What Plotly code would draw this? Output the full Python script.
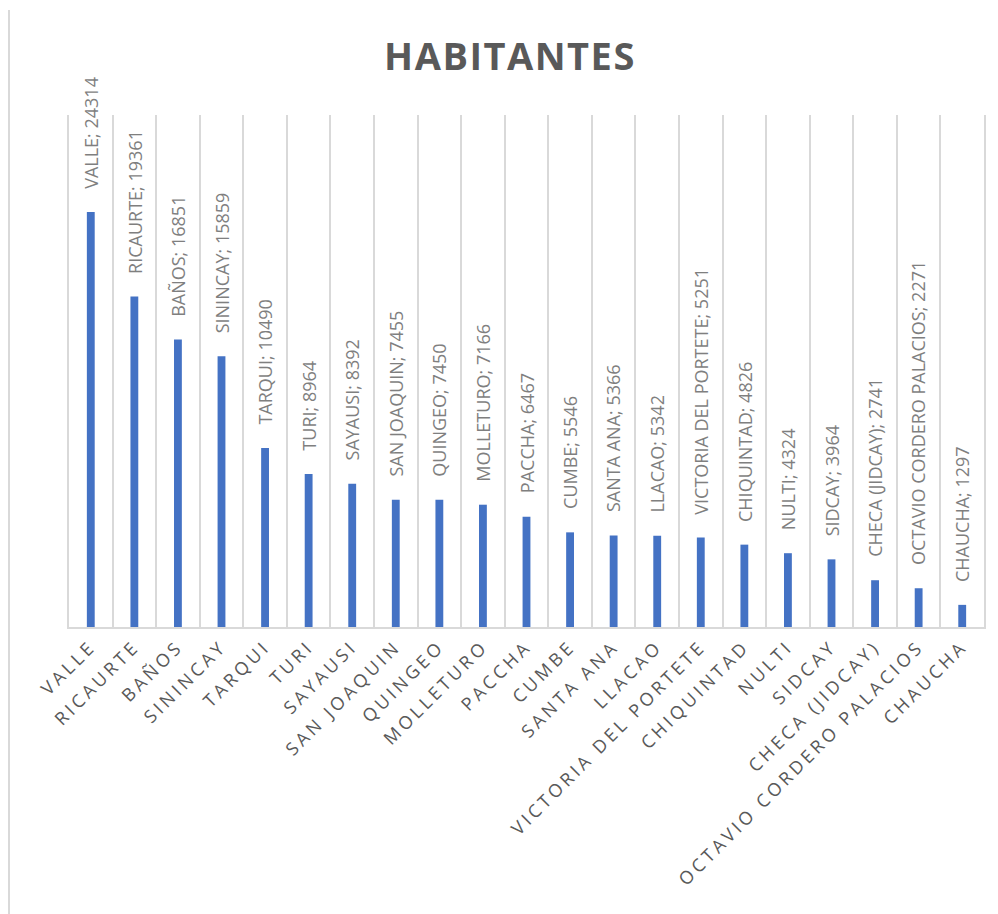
import plotly.graph_objects as go

categories = ["VALLE", "RICAURTE", "BAÑOS", "SININCAY", "TARQUI", "TURI", "SAYAUSI",
              "SAN JOAQUIN", "QUINGEO", "MOLLETURO", "PACCHA", "CUMBE", "SANTA ANA",
              "LLACAO", "VICTORIA DEL PORTETE", "CHIQUINTAD", "NULTI", "SIDCAY",
              "CHECA (JIDCAY)", "OCTAVIO CORDERO PALACIOS", "CHAUCHA"]
habitantes = [24314, 19361, 16851, 15859, 10490, 8964, 8392, 7455, 7450, 7166, 6467,
              5546, 5366, 5342, 5251, 4826, 4324, 3964, 2741, 2271, 1297]
title_text = "HABITANTES"

BLUE = "#4472C4"
GRID = "#d9d9d9"
DARK = "#595959"
LABEL = "#7f7f7f"

fig = go.Figure()
fig.add_trace(go.Bar(
    x=categories, y=habitantes, width=0.18,
    marker=dict(color=BLUE, line=dict(width=0)),
    hoverinfo="x+y", showlegend=False,
))

annotations = []
for c, v in zip(categories, habitantes):
    annotations.append(dict(
        x=c, y=v, xref="x", yref="y", text=f"{c}; {v}",
        textangle=-90, showarrow=False, xanchor="center", yanchor="bottom",
        yshift=21, font=dict(family="Open Sans", size=18, color=LABEL),
    ))

fig.update_layout(
    width=998, height=914,
    margin=dict(l=69, r=14, t=115, b=287),
    paper_bgcolor="white", plot_bgcolor="white",
    title=dict(text=title_text, x=0.511, xref="container", xanchor="center",
               y=1 - 57 / 914, yref="container", yanchor="middle",
               font=dict(family="Open Sans", size=38, color=DARK, weight="bold")),
    xaxis=dict(type="category", tickson="boundaries", showgrid=True, gridcolor=GRID,
               gridwidth=1.5, showline=True, linecolor=GRID, linewidth=2,
               ticks="", tickangle=-45,
               tickfont=dict(family="Open Sans", size=18, color=DARK)),
    yaxis=dict(range=[0, 30000], showgrid=False, zeroline=False, showticklabels=False,
               showline=True, linecolor=GRID, linewidth=1.5, mirror=True, ticks=""),
    annotations=annotations,
    bargap=0.82,
    shapes=[dict(type="line", xref="paper", yref="paper",
                 x0=(9 - 69) / 915, x1=(9 - 69) / 915,
                 y0=(627 - 10) / 512, y1=(627 - 920) / 512,
                 line=dict(color=GRID, width=2))],
)

post = """
var s = document.createElement('style');
s.innerHTML = '.xtick text{letter-spacing:3.5px;} .gtitle{letter-spacing:1.5px;}';
document.head.appendChild(s);
"""
fig.write_html("out.html", post_script=post)
